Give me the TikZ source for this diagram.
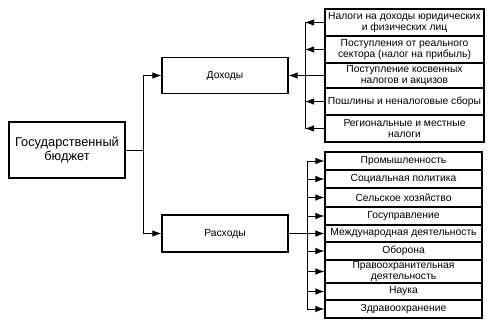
\documentclass[tikz,border=0pt]{standalone}
\usepackage{fontspec}
\setmainfont{Liberation Sans}
\usetikzlibrary{arrows.meta, positioning}

\begin{document}
\begin{tikzpicture}[
  x=1pt, y=-1pt,
  every node/.style={font=\fontsize{10.3}{11}\selectfont},
  mainbox/.style={draw=black, line width=1.1pt, minimum width=116pt,
                  minimum height=56pt, align=center, inner sep=2pt,
                  font=\fontsize{12.8}{14}\selectfont},
  midbox/.style={draw=black, line width=1.1pt, minimum width=126pt,
                 minimum height=36pt, align=center, inner sep=2pt},
  inbox/.style={draw=black, line width=1.1pt, minimum width=159pt,
                minimum height=27pt, align=center, inner sep=0pt},
  exbox/.style={draw=black, line width=1.1pt, minimum width=157pt,
                minimum height=18pt, align=center, inner sep=0pt},
  arr/.style={-{Latex[length=9pt,width=6.5pt]}, line width=0.9pt},
  bus/.style={line width=0.9pt},
]
  \useasboundingbox (0,0) rectangle (494,326);

  \node[mainbox] (bud) at (67, 150) {Государственный\\бюджет};
  \node[midbox] (dox) at (225, 75.5) {Доходы};
  \node[midbox, minimum height=37pt] (ras) at (225, 233.5) {Расходы};

  % доходы
  \node[inbox] (inc1) at (404.5, 22.5) {Налоги на доходы юридических\\и физических лиц};
  \node[inbox] (inc2) at (404.5, 49.5) {Поступления от реального\\сектора (налог на прибыль)};
  \node[inbox, minimum height=25pt] (inc3) at (404.5, 75.5) {Поступление косвенных\\налогов и акцизов};
  \node[inbox] (inc4) at (404.5, 101.5) {Пошлины и неналоговые сборы};
  \node[inbox] (inc5) at (404.5, 128.5) {Региональные и местные\\налоги};

  % расходы
  \node[exbox] (exp1) at (403.5, 161) {Промышленность};
  \node[exbox] (exp2) at (403.5, 179) {Социальная политика};
  \node[exbox, minimum height=19pt] (exp3) at (403.5, 197.5) {Сельское хозяйство};
  \node[exbox] (exp4) at (403.5, 216) {Госуправление};
  \node[exbox, minimum height=17pt] (exp5) at (403.5, 233.5) {Международная деятельность};
  \node[exbox] (exp6) at (403.5, 251) {Оборона};
  \node[exbox, minimum height=23pt] (exp7) at (403.5, 271.5) {Правоохранительная\\деятельность};
  \node[exbox, minimum height=17pt] (exp8) at (403.5, 291.5) {Наука};
  \node[exbox] (exp9) at (403.5, 309) {Здравоохранение};

  \coordinate (trunk) at (143, 150);
  \coordinate (inbus) at (305, 0);
  \coordinate (exbus) at (307, 0);

  \draw[bus] (bud.east) -- (trunk);
  \draw[arr] (trunk) |- (dox.west);
  \draw[arr] (trunk) |- (ras.west);

  \draw[bus] (inc1.west -| inbus) -- (inc5.west -| inbus);
  \draw[arr] (inc1.west) -- (inc1.west -| inbus);
  \draw[arr] (inc2.west) -- (inc2.west -| inbus);
  \draw[arr] (inc3.west) -- (dox.east);
  \draw[arr] (inc4.west) -- (inc4.west -| inbus);
  \draw[arr] (inc5.west) -- (inc5.west -| inbus);

  \draw[bus] (exp1.west -| exbus) -- (exp9.west -| exbus);
  \draw[arr] (ras.east) -- (exp5.west);
  \draw[arr] (exp1.west -| exbus) -- (exp1.west);
  \draw[arr] (exp2.west -| exbus) -- (exp2.west);
  \draw[arr] (exp3.west -| exbus) -- (exp3.west);
  \draw[arr] (exp4.west -| exbus) -- (exp4.west);
  \draw[arr] (exp6.west -| exbus) -- (exp6.west);
  \draw[arr] (exp7.west -| exbus) -- (exp7.west);
  \draw[arr] (exp8.west -| exbus) -- (exp8.west);
  \draw[arr] (exp9.west -| exbus) -- (exp9.west);
\end{tikzpicture}
\end{document}
